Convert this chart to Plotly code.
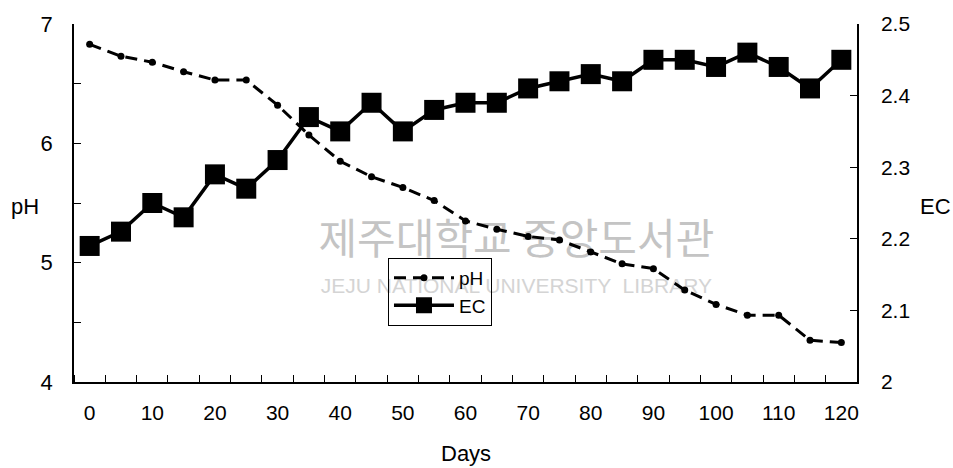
import plotly.graph_objects as go

# Sampling days (every 5 days)
days = [0, 5, 10, 15, 20, 25, 30, 35, 40, 45, 50, 55, 60, 65, 70, 75, 80, 85, 90, 95, 100, 105, 110, 115, 120]

# pH of the compost over time
ph = [6.83, 6.73, 6.68, 6.60, 6.53, 6.53, 6.32, 6.07, 5.85, 5.72, 5.63, 5.52, 5.35, 5.28, 5.22, 5.19,
      5.09, 4.99, 4.95, 4.77, 4.65, 4.56, 4.56, 4.35, 4.33]

# Electrical conductivity over time
ec = [2.19, 2.21, 2.25, 2.23, 2.29, 2.27, 2.31, 2.37, 2.35, 2.39, 2.35, 2.38, 2.39, 2.39, 2.41, 2.42,
      2.43, 2.42, 2.45, 2.45, 2.44, 2.46, 2.44, 2.41, 2.45]

x_label_vals = [0, 10, 20, 30, 40, 50, 60, 70, 80, 90, 100, 110, 120]
x_tick_marks = [-2.5 + 5 * k for k in range(26)]

ph_tickvals = [4, 4.5, 5, 5.5, 6, 6.5, 7]
ph_ticktext = ["4", "", "5", "", "6", "", "7"]

ec_tickvals = [2.0, 2.1, 2.2, 2.3, 2.4, 2.5]
ec_ticktext = ["2", "2.1", "2.2", "2.3", "2.4", "2.5"]

FONT = "Liberation Sans, Arial, sans-serif"

fig = go.Figure()

fig.add_trace(go.Scatter(
    x=days, y=ph, name="pH", mode="lines+markers",
    line=dict(color="black", width=3, dash="12px,7px"),
    marker=dict(symbol="circle", size=7, color="black"),
    yaxis="y",
))

fig.add_trace(go.Scatter(
    x=days, y=ec, name="EC", mode="lines+markers",
    line=dict(color="black", width=3.5),
    marker=dict(symbol="square", size=20, color="black"),
    yaxis="y2",
))

title_font = dict(family=FONT, size=22, color="black")
x_font = dict(family=FONT, size=21, color="black")
left_font = dict(family=FONT, size=22, color="black")
right_font = dict(family=FONT, size=21, color="black")

fig.update_layout(
    width=953, height=468,
    margin=dict(l=74, r=96, t=17, b=86),
    paper_bgcolor="white", plot_bgcolor="white",
    font=title_font,
    showlegend=True,
    legend=dict(
        x=0.401, y=0.252, xanchor="left", yanchor="middle",
        bordercolor="black", borderwidth=1, bgcolor="rgba(0,0,0,0)",
        font=dict(family=FONT, size=19, color="black"),
        tracegroupgap=0, itemwidth=60,
    ),
    xaxis=dict(
        range=[-2.5, 122.5], showgrid=False, zeroline=False,
        showline=True, linecolor="black", linewidth=1.5,
        tickvals=x_label_vals, ticks="", ticklabelstandoff=11,
        minor=dict(tickvals=x_tick_marks, ticks="inside", ticklen=7, tickcolor="black", showgrid=False),
        tickfont=x_font,
    ),
    yaxis=dict(
        range=[4, 7], showgrid=False, zeroline=False,
        showline=True, linecolor="black", linewidth=1.5,
        tickvals=ph_tickvals, ticktext=ph_ticktext,
        ticks="inside", ticklen=7, tickcolor="black", ticklabelstandoff=15,
        tickfont=left_font,
    ),
    yaxis2=dict(
        range=[2, 2.5], overlaying="y", side="right",
        showgrid=False, zeroline=False,
        showline=True, linecolor="black", linewidth=1.5,
        tickvals=ec_tickvals, ticktext=ec_ticktext,
        ticks="inside", ticklen=7, tickcolor="black", ticklabelstandoff=18,
        tickfont=right_font,
    ),
    annotations=[
        dict(text="pH", x=-0.062, y=0.49, xref="paper", yref="paper",
             showarrow=False, xanchor="center", yanchor="middle", font=title_font),
        dict(text="EC", x=1.1, y=0.49, xref="paper", yref="paper",
             showarrow=False, xanchor="center", yanchor="middle", font=title_font),
        dict(text="Days", x=0.5, y=-0.2, xref="paper", yref="paper",
             showarrow=False, xanchor="center", yanchor="middle", font=title_font),
    ],
    shapes=[
        # library watermark, kept beneath the data
        dict(type="rect", xref="paper", yref="paper", x0=0.3, x1=0.83, y0=0.34, y1=0.44,
             line=dict(width=0), fillcolor="rgba(0,0,0,0)", layer="below",
             label=dict(text="제주대학교 중앙도서관", textposition="middle center",
                        font=dict(family="Noto Sans CJK KR", size=42, color="#c4c4c4"))),
        dict(type="rect", xref="paper", yref="paper", x0=0.3, x1=0.83, y0=0.24, y1=0.31,
             line=dict(width=0), fillcolor="rgba(0,0,0,0)", layer="below",
             label=dict(text="JEJU NATIONAL UNIVERSITY  LIBRARY", textposition="middle center",
                        font=dict(family="Liberation Sans", size=21, color="#d4d4d4"))),
    ],
)

fig.write_html("out.html")
